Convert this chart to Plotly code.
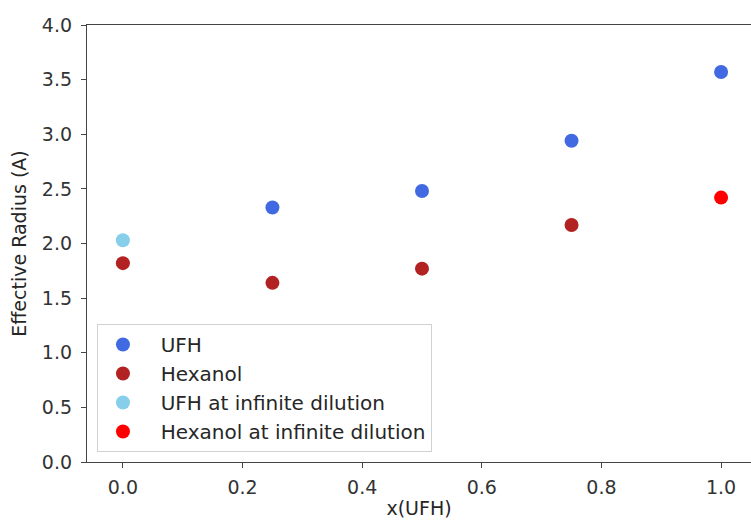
import plotly.graph_objects as go

ufh_x = [0.25, 0.5, 0.75, 1.0]
ufh_y = [2.33, 2.48, 2.94, 3.57]
hex_x = [0.0, 0.25, 0.5, 0.75]
hex_y = [1.82, 1.64, 1.77, 2.17]
ufh_inf_x = [0.0]
ufh_inf_y = [2.03]
hex_inf_x = [1.0]
hex_inf_y = [2.42]

series = [
    ("UFH", ufh_x, ufh_y, "#4169E1"),
    ("Hexanol", hex_x, hex_y, "#B22222"),
    ("UFH at infinite dilution", ufh_inf_x, ufh_inf_y, "#87CEEB"),
    ("Hexanol at infinite dilution", hex_inf_x, hex_inf_y, "#FF0000"),
]

fig = go.Figure()
for name, xs, ys, c in series:
    fig.add_trace(go.Scatter(x=xs, y=ys, mode="markers", name="\u00a0\u00a0" + name,
                             marker=dict(color=c, size=14, line=dict(width=0))))

font = dict(family="DejaVu Sans", size=19, color="#333333")
title_font = dict(family="DejaVu Sans", size=19, color="#262626")
fig.update_layout(
    width=751, height=523,
    margin=dict(l=87, r=0, t=25, b=61),
    plot_bgcolor="white", paper_bgcolor="white",
    font=font,
    legend=dict(x=0.015, y=0.023, xanchor="left", yanchor="bottom",
                bordercolor="#d0d0d0", borderwidth=1,
                font=dict(family="DejaVu Sans", size=20, color="#262626"),
                tracegroupgap=0, itemwidth=40),
)
fig.update_xaxes(range=[-0.06, 1.05], tickvals=[0.0, 0.2, 0.4, 0.6, 0.8, 1.0],
                 ticktext=["0.0", "0.2", "0.4", "0.6", "0.8", "1.0"],
                 showline=True, linecolor="#444444", linewidth=1.3, mirror=True,
                 ticks="outside", ticklen=5, tickcolor="#444444", showgrid=False,
                 zeroline=False, ticklabelstandoff=3,
                 title=dict(text="x(UFH)", standoff=4, font=title_font))
fig.update_yaxes(range=[0, 4], tickvals=[0, 0.5, 1, 1.5, 2, 2.5, 3, 3.5, 4],
                 ticktext=["0.0", "0.5", "1.0", "1.5", "2.0", "2.5", "3.0", "3.5", "4.0"],
                 showline=True, linecolor="#444444", linewidth=1.3, mirror=False,
                 ticks="outside", ticklen=5, tickcolor="#444444", showgrid=False,
                 zeroline=False, ticklabelstandoff=5,
                 title=dict(text="Effective Radius (A)", standoff=10, font=title_font))
fig.write_html("out.html")
